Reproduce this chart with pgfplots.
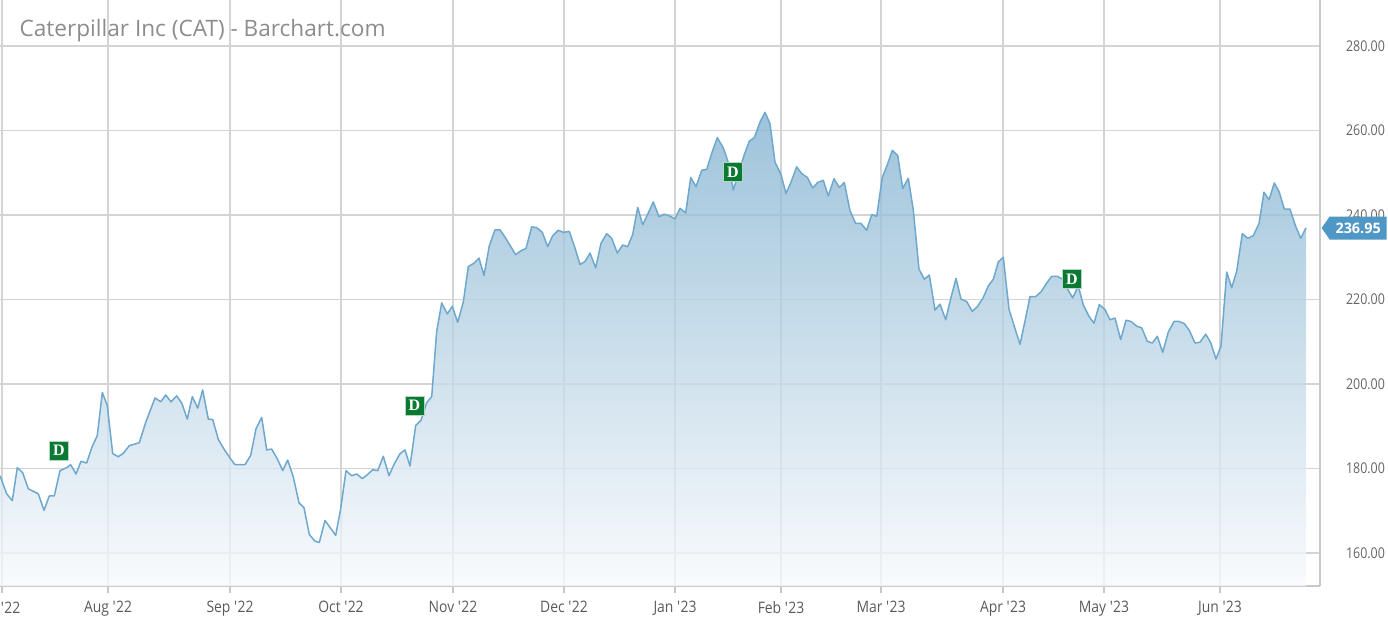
\documentclass[border=0pt]{standalone}
\usepackage{pgfplots}
\pgfplotsset{compat=1.18}
\usepackage{pgfplotstable}
\usepackage{fontspec}
\setmainfont{Open Sans}
\newfontfamily\condfont{Open Sans}[FakeStretch=0.88]
\newfontfamily\ycondfont{Open Sans}[FakeStretch=0.84]
\newfontfamily\dfont{Liberation Serif}
\usetikzlibrary{shapes.symbols}
\definecolor{gridc}{RGB}{212,212,212}
\definecolor{axc}{RGB}{200,200,200}
\definecolor{linec}{RGB}{110,168,206}
\definecolor{fillTop}{RGB}{130,178,208}
\definecolor{fillBot}{RGB}{247,249,252}
\definecolor{tagc}{RGB}{79,151,196}
\definecolor{dgreen}{RGB}{10,122,50}
\definecolor{ticklab}{RGB}{90,90,90}
\definecolor{yticklab}{RGB}{100,100,100}
\definecolor{titlec}{RGB}{140,140,140}
\newcommand\q{\textquotesingle}

% x = horizontal position (px), y = close price
\pgfplotstableread{
x y
0 178.3
6.7 174.0
12.3 172.4
17.3 180.2
22.7 179.0
28.3 175.2
38.3 174.0
44 170.1
49.3 173.5
54.3 173.5
60 179.5
66.7 180.2
70.7 180.9
76 178.7
81 181.7
86.7 181.3
91.7 184.9
97.3 187.8
102.3 198.0
107.3 194.9
112.7 183.5
118.3 182.8
123.3 183.6
129.3 185.4
135 185.8
139.3 186.1
145.7 190.9
155 196.7
160.7 195.8
165.7 197.4
171 195.8
176.7 197.2
181.7 195.5
187.3 191.7
192.3 197.0
197.7 194.3
202.7 198.6
208.3 191.7
212.7 191.6
218.3 186.9
224 184.6
230 182.5
235 180.9
245 180.9
250.7 183.1
256 189.4
261.7 192.1
266.7 184.4
271.7 184.6
277.3 182.3
282.7 179.5
287.7 182.0
293.3 178.0
299 171.9
304 170.7
309.3 164.4
315 162.8
319.3 162.5
325 167.7
335.7 164.2
340.7 170.5
346 179.5
351.7 178.3
356.7 178.7
362.3 177.6
367.7 178.6
372.7 179.7
377.7 179.5
383.3 182.9
389 178.3
394.3 181.1
400 183.5
405 184.4
410 180.6
415.7 190.2
421 191.4
426.7 195.6
431.7 197.0
436.7 212.5
441.7 219.2
447.3 216.6
452.3 218.4
457.7 214.6
463.3 219.4
468.3 227.8
474 228.6
479 229.8
484 225.7
489.3 232.7
495 236.5
500 236.5
506 234.4
515.7 230.6
520.7 231.5
526 232.1
531.7 237.2
536.7 237.0
542.3 235.9
547.7 232.5
552.7 235.1
558.3 236.4
563.3 235.9
569.3 236.1
574.3 232.7
580 228.3
585 229.0
590 231.0
595.7 227.5
601 233.3
606.7 235.6
611.7 234.5
617.3 231.0
622.7 232.9
627.7 232.5
632.7 235.4
637.7 241.8
642.7 237.7
648.3 240.5
653.3 243.1
659 239.6
664.3 240.2
669.5 239.8
675 239.1
680 241.6
685.7 240.5
690.7 248.9
696 246.7
701.7 250.6
706.7 250.8
712.3 255.0
717.3 258.3
723.3 255.9
728.3 252.4
733.3 245.9
739 250.3
744 254.1
749.3 257.5
754.3 258.3
760 262.0
765 264.3
770 261.6
775 252.5
781 249.6
786 245.1
791 247.8
796.7 251.4
801.7 249.8
807.3 248.9
812.7 246.4
817.7 247.7
823.3 248.2
828.3 244.5
834 248.6
839.3 246.5
844.3 247.7
850 241.0
855.7 238.0
861 238.0
866.7 236.4
871.7 240.1
876.7 239.7
882.3 248.9
887.3 251.9
892.3 255.3
897.7 254.1
902.7 246.3
908.3 248.7
913.3 241.2
919 227.2
924.3 224.8
929.3 225.8
935 217.5
940 218.9
945.7 215.2
950.7 220.2
956 225.0
961 220.1
966.7 219.5
972.3 217.2
977.3 218.3
982.7 220.2
988.3 223.2
993.3 224.8
998.3 228.9
1003.3 230.0
1009 217.7
1014.5 213.5
1020 209.4
1025 214.9
1030 220.7
1035.7 220.7
1041 221.8
1046.7 223.9
1051.7 225.5
1057.3 225.5
1062.7 224.8
1066.7 222.8
1072.7 220.4
1078.3 223.2
1083.3 218.7
1089 216.0
1094 214.4
1099.3 218.8
1105 217.6
1110 215.2
1115 215.6
1120.7 210.5
1126 215.1
1131 214.8
1136.7 213.7
1141.7 213.3
1147.3 210.1
1152.3 209.7
1157.3 211.3
1162.7 207.5
1168.3 212.3
1174 214.8
1179 214.8
1184.3 214.3
1189.3 212.7
1195 209.7
1200 209.9
1205.7 211.8
1210.7 209.8
1216 205.9
1221 209.0
1226.7 226.5
1231.7 222.8
1236.7 226.7
1242.3 235.6
1247.7 234.5
1253.3 235.1
1259 238.0
1264 245.4
1269 243.6
1274.3 247.6
1279.3 245.4
1284.3 241.4
1290 241.4
1295.7 237.3
1300.7 234.5
1306 236.95
}\pricedata

\pgfplotstableread{
x y
59 184.3
414.5 194.9
733 250.2
1072 224.9
}\divdata

\begin{document}
\begin{tikzpicture}
\path[use as bounding box] (0,-16pt) rectangle (694pt,293pt);
\clip (0,-16pt) rectangle (694pt,293pt);
\begin{axis}[
  scale only axis,
  width=660pt, height=293pt,
  at={(0,0)}, anchor=south west,
  xmin=0, xmax=1320,
  ymin=152.19, ymax=290.89,
  axis x line*=bottom, axis y line*=right,
  axis line style={draw=axc, line width=0.7pt},
  xtick={108,230,341,453,564,675,781,881,1003,1104,1220},
  xticklabels={Aug \q22,Sep \q22,Oct \q22,Nov \q22,Dec \q22,Jan \q23,Feb \q23,Mar \q23,Apr \q23,May \q23,Jun \q23},
  extra x ticks={2},
  extra x tick labels={Jul \q22},
  extra x tick style={grid=major, xticklabel style={xshift=-0.5pt}},
  ytick={160,180,200,220,240,260,280},
  yticklabel={\pgfmathprintnumber[fixed,fixed zerofill,precision=2]{\tick}},
  /pgf/number format/assume math mode=true,
  scaled y ticks=false,
  grid=major,
  major grid style={draw=gridc, line width=0.75pt},
  tick align=outside,
  major tick length=3.5pt,
  xtick style={draw=axc, line width=0.7pt},
  ytick style={draw=none},
  xticklabel style={font=\condfont\fontsize{7.9}{9}\selectfont, text=ticklab, yshift=-0.5pt},
  yticklabel style={font=\ycondfont\fontsize{7.4}{9}\selectfont, text=yticklab, xshift=6pt},
  clip=true,
]
\addplot[draw=none, fill opacity=0.78, top color=fillTop, bottom color=fillBot, forget plot]
  table[x=x, y=y] {\pricedata} -- (axis cs:1306,152.19) -- (axis cs:0,152.19) -- cycle;
\addplot[draw=linec, line width=0.75pt, mark=none, line join=round] table[x=x, y=y] {\pricedata};
\addplot[draw=none, mark=none, nodes near coords={D},
  every node near coord/.append style={anchor=center, fill=dgreen, draw=white!70!dgreen, line width=0.3pt,
    text=white, minimum size=9.5pt, inner sep=0pt, font=\dfont\bfseries\fontsize{8}{8}\selectfont}]
  table[x=x, y=y] {\divdata};
\end{axis}
\node[anchor=base west, text=titlec, font=\fontsize{11.3}{13}\selectfont] at (6.3pt,275pt) {Caterpillar Inc (CAT) - Barchart.com};
\node[signal, signal to=west, signal pointer angle=110, fill=tagc, text=white,
  font=\bfseries\fontsize{7.2}{8}\selectfont, inner xsep=2.5pt, inner ysep=0pt,
  minimum height=11.5pt, minimum width=32.5pt, anchor=east] at (693.5pt,179pt) {236.95};
\end{tikzpicture}
\end{document}
